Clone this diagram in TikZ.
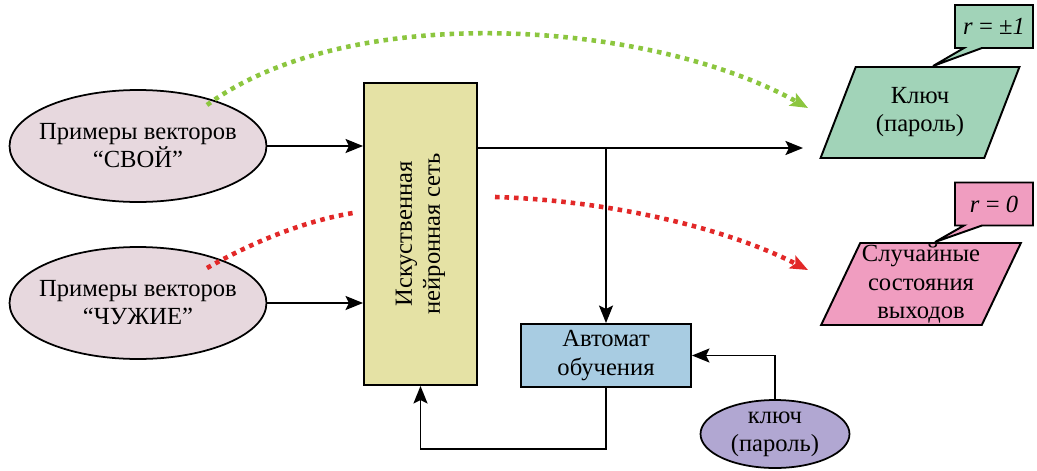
\documentclass[tikz,border=0pt]{standalone}
\usepackage{fontspec}
\setmainfont{Liberation Serif}
\usetikzlibrary{shapes.geometric,shapes.callouts,arrows.meta,calc}

\definecolor{vecfill}{RGB}{231,216,222}
\definecolor{netfill}{RGB}{229,226,165}
\definecolor{autofill}{RGB}{168,204,226}
\definecolor{passfill}{RGB}{177,167,210}
\definecolor{keyfill}{RGB}{161,211,184}
\definecolor{randfill}{RGB}{240,157,192}
\definecolor{gooddot}{RGB}{140,198,63}
\definecolor{baddot}{RGB}{226,40,40}

\begin{document}
\begin{tikzpicture}
            [
            x = 0.02cm, y = -0.02cm,
            font = \fontsize{14}{16}\selectfont,
            >={Stealth[length=10pt,width=8pt,inset=2pt]},
            ]
            \tikzstyle{flow}=[draw,line width=1.1pt,->]
            \tikzstyle{vec node}=[ellipse,draw,line width=1pt,fill=vecfill,align=center,inner xsep=-6pt,inner ysep=0,minimum width=5.14cm,minimum height=2.24cm]
            \tikzstyle{net node}=[rectangle,draw,line width=1.1pt,fill=netfill,align=center,rotate=90,minimum width=6.04cm,minimum height=2.26cm]
            \tikzstyle{auto node}=[rectangle,draw,line width=1.1pt,fill=autofill,align=center,minimum width=3.4cm,minimum height=1.26cm]
            \tikzstyle{pass node}=[ellipse,draw,line width=1pt,fill=passfill,align=center,inner xsep=-3pt,inner ysep=0,minimum width=2.98cm,minimum height=1.36cm]
            \tikzstyle{para node}=[trapezium,trapezium left angle=64,trapezium right angle=116,trapezium stretches=true,draw,line width=1.1pt,align=center,inner sep=0,minimum width=4cm]
            \tikzstyle{tag node}=[rectangle callout,draw,line width=1.1pt,callout pointer width=0.36cm,minimum width=1.56cm,minimum height=0.86cm,inner sep=1pt]
            \tikzstyle{good dots}=[draw=gooddot,line width=2.6pt,dash pattern=on 2.6pt off 2.8pt,->,color=gooddot]
            \tikzstyle{bad dots}=[draw=baddot,line width=2.6pt,dash pattern=on 2.6pt off 2.8pt,color=baddot]

            \useasboundingbox (0,0) rectangle (1037,470);

            \node[vec node] (own) at (138,146) {Примеры векторов\\“СВОЙ”};
            \node[vec node] (alien) at (138,303) {Примеры векторов\\“ЧУЖИЕ”};
            \node[net node] (net) at (420.5,234) {Искуственная\\нейронная сеть};
            \node[auto node] (teach) at (606,355.5) {Автомат\\обучения};
            \node[pass node] (pass) at (775,434) {ключ\\(пароль)};

            \node[para node,fill=keyfill,minimum height=1.82cm] (key) at (920,112.5) {Ключ\\(пароль)};
            \node[para node,fill=randfill,minimum height=1.64cm] (rand) at (921,284) {Случайные\\состояния\\выходов};
            \node[tag node,fill=keyfill,callout absolute pointer={($(key.north)+(13,0)$)}] (rkey) at (994,26.5) {\textit{r} = ±\textit{1}};
            \node[tag node,fill=randfill,callout absolute pointer={($(rand.north)+(14,0)$)}] (rrand) at (994,204) {\textit{r} = \textit{0}};

            % connectors
            \coordinate (split) at (606,148);
            \coordinate (keyin) at (803,148);
            \draw[flow] (own.east) -- (own.east -| net.north);
            \draw[flow] (alien.east) -- (alien.east -| net.north);
            \draw[flow] (net.south |- split) -- (keyin);
            \draw[flow] (split) -- (teach.north);
            \draw[flow] (teach.south) -- ++(0,61) -| (net.west);
            \draw[flow] (pass.north) |- (teach.east);

            % dotted curves
            \coordinate (g0) at (207,105);
            \coordinate (g1) at (808,108);
            \coordinate (r0) at (207,268);
            \coordinate (r1) at (353,213);
            \coordinate (r2) at (495,197);
            \coordinate (r3) at (808,270);
            \draw[good dots] (g0) .. controls (350,0) and (650,20) .. (g1);
            \draw[bad dots] (r0) .. controls (260,238) and (310,220) .. (r1);
            \draw[bad dots,->] (r2) .. controls (600,200) and (720,225) .. (r3);
\end{tikzpicture}
\end{document}
